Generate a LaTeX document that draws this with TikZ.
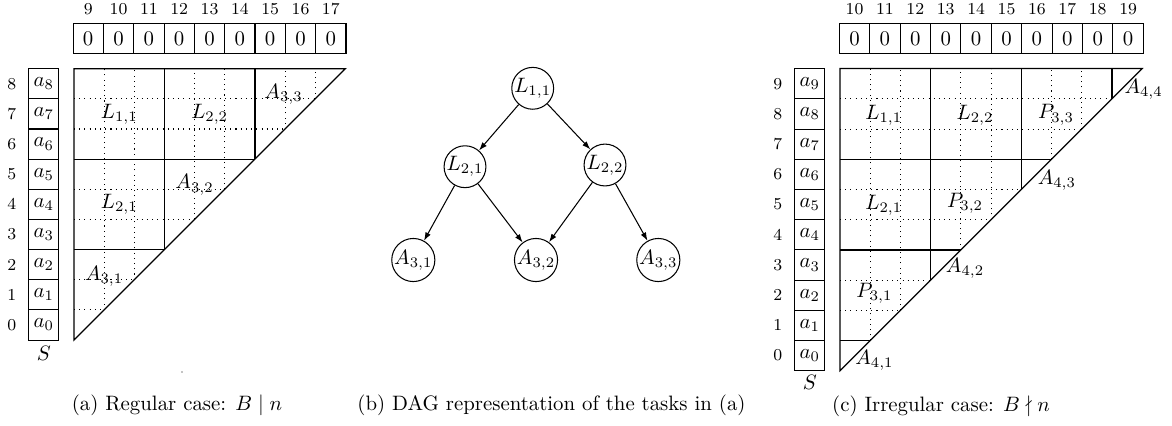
\documentclass[tikz,border=0pt]{standalone}
\usepackage{amssymb}
\usetikzlibrary{arrows.meta}
\begin{document}
\begin{tikzpicture}[x=0.48pt,y=-0.48pt, line width=0.5pt,
  cellbox/.style={draw, minimum width=14.5pt, minimum height=14.5pt, inner sep=0pt, anchor=center},
  zerobox/.style={draw, minimum height=14.06pt, inner sep=0pt, anchor=center},
  colnum/.style={font=\footnotesize, inner sep=0pt},
  gridline/.style={dotted, line width=0.5pt},
  blk/.style={line width=0.6pt},
  task/.style={circle, draw, minimum size=19.2pt, inner sep=0pt},
  dep/.style={-{Latex[length=4pt,width=2.8pt]}, line width=0.5pt}]
\useasboundingbox (0,0) rectangle (1172,425);

% ---------------- (a) ----------------
\foreach \i in {0,...,8} {
  \pgfmathtruncatemacro{\lbl}{\i+9}
  \node[zerobox, minimum width=14.56pt] (za\i) at ({88.2+30.33*\i},38.4) {0};
  \node[colnum] (na\i) at ({88.2+30.33*\i},9.3) {\lbl};
}
\begin{scope}[shift={(74,340)}, x=14.47pt, y=14.47pt]
  \foreach \i in {1,...,8} {
    \draw[gridline] (\i,\i) -- (\i,9);
    \draw[gridline] (0,\i) -- (\i,\i);
  }
  \draw[blk] (0,0) -- (0,9) -- (9,9) -- cycle;
  \draw[blk] (3,3) -- (3,9);
  \draw[blk] (6,6) -- (6,9);
  \draw[blk] (0,6) -- (6,6);
  \draw[blk] (0,3) -- (3,3);
  \node (aL11) at (1.5,7.5) {$L_{1,1}$};
  \node (aL22) at (4.5,7.5) {$L_{2,2}$};
  \node (aA33) at (6.95,8.15) {$A_{3,3}$};
  \node (aA32) at (4.0,5.15) {$A_{3,2}$};
  \node (aL21) at (1.5,4.5) {$L_{2,1}$};
  \node (aA31) at (1.0,2.1) {$A_{3,1}$};
  \foreach \j in {0,...,8} {
    \node[cellbox] (sa\j) at (-1,\j+0.5) {$a_{\j}$};
    \node[colnum] (ra\j) at (-2.06,\j+0.5) {\j};
  }
  \node (Sa) at (-1,-0.44) {$S$};
\end{scope}
\fill (182,372) circle (0.6);
\node (capa) at (177,405) {(a) Regular case: $B \mid n$};

% ---------------- (b) ----------------
\node[task] (L11) at (532.7,88.3) {$L_{1,1}$};
\node[task] (L21) at (465,166.7) {$L_{2,1}$};
\node[task] (L22) at (605,165) {$L_{2,2}$};
\node[task] (A31) at (413.3,260) {$A_{3,1}$};
\node[task] (A32) at (536,260) {$A_{3,2}$};
\node[task] (A33) at (658.3,260) {$A_{3,3}$};
\draw[dep] (L11) -- (L21);
\draw[dep] (L11) -- (L22);
\draw[dep] (L21) -- (A31);
\draw[dep] (L21) -- (A32);
\draw[dep] (L22) -- (A32);
\draw[dep] (L22) -- (A33);
\node (capb) at (551.5,405) {(b) DAG representation of the tasks in (a)};

% ---------------- (c) ----------------
\foreach \i in {0,...,9} {
  \pgfmathtruncatemacro{\lbl}{\i+10}
  \node[zerobox, minimum width=14.59pt] (zc\i) at ({854.5+30.4*\i},38.4) {0};
  \node[colnum] (nc\i) at ({854.5+30.4*\i},9.3) {\lbl};
}
\begin{scope}[shift={(840,370.7)}, x=14.5pt, y=14.5pt]
  \foreach \i in {1,...,9} {
    \draw[gridline] (\i,\i) -- (\i,10);
    \draw[gridline] (0,\i) -- (\i,\i);
  }
  \draw[blk] (0,0) -- (0,10) -- (10,10) -- cycle;
  \draw[blk] (0,7) -- (7,7);
  \draw[blk] (0,4) -- (4,4);
  \draw[blk] (0,1) -- (1,1);
  \draw[blk] (3,3) -- (3,10);
  \draw[blk] (6,6) -- (6,10);
  \draw[blk] (9,9) -- (9,10);
  \node (cL11) at (1.45,8.45) {$L_{1,1}$};
  \node (cL22) at (4.47,8.45) {$L_{2,2}$};
  \node (cP33) at (7.15,8.47) {$P_{3,3}$};
  \node (cA44) at (10.05,9.32) {$A_{4,4}$};
  \node (cA43) at (7.18,6.31) {$A_{4,3}$};
  \node (cL21) at (1.45,5.49) {$L_{2,1}$};
  \node (cP32) at (4.14,5.54) {$P_{3,2}$};
  \node (cA42) at (4.14,3.39) {$A_{4,2}$};
  \node (cP31) at (1.14,2.56) {$P_{3,1}$};
  \node (cA41) at (1.14,0.35) {$A_{4,1}$};
  \foreach \j in {0,...,9} {
    \node[cellbox] (sc\j) at (-1,\j+0.5) {$a_{\j}$};
    \node[colnum] (rc\j) at (-2.06,\j+0.5) {\j};
  }
  \node (Sc) at (-1,-0.37) {$S$};
\end{scope}
\node (capc) at (941,406.7) {(c) Irregular case: $B \nmid n$};
\end{tikzpicture}
\end{document}
